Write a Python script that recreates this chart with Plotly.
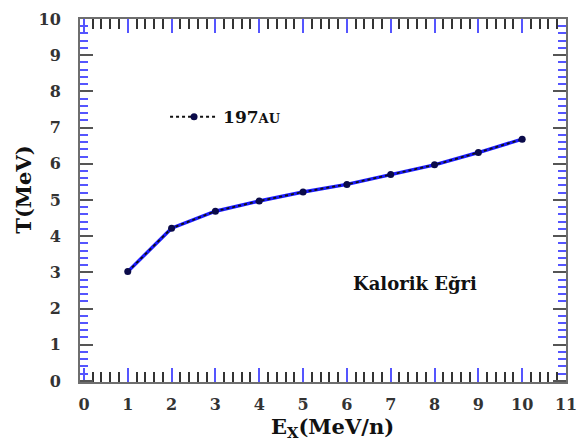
import plotly.graph_objects as go

ex = [1, 2, 3, 4, 5, 6, 7, 8, 9, 10]
temp = [3.02, 4.22, 4.69, 4.97, 5.22, 5.43, 5.70, 5.97, 6.31, 6.68]
x_ticks = list(range(0, 12))
y_ticks = list(range(0, 11))

serif = "DejaVu Serif, serif"

fig = go.Figure()
fig.add_trace(go.Scatter(x=ex, y=temp, mode="lines",
                         line=dict(color="#1a1aff", width=3.5),
                         showlegend=False, hoverinfo="skip"))
fig.add_trace(go.Scatter(x=ex, y=temp, mode="lines+markers",
                         name="<b><span style='font-size:17px'>197</span><span style='font-size:13px'>AU</span></b>",
                         line=dict(color="#111111", width=1.8, dash="dot"),
                         marker=dict(color="#0b0b4a", size=7, symbol="circle")))

fig.add_annotation(x=7.56, y=2.69, text="<b>Kalorik Eğri</b>", showarrow=False,
                   font=dict(family=serif, size=18, color="#111111"))
fig.add_annotation(xref="paper", yref="paper", x=-0.117, y=0.53, text="<b>T(MeV)</b>",
                   textangle=-90, showarrow=False, xanchor="center", yanchor="middle",
                   font=dict(family=serif, size=21, color="#111111"))
fig.add_annotation(xref="paper", yref="paper", x=0.52, y=-0.125, text="<b>E<sub>X</sub>(MeV/n)</b>",
                   showarrow=False, xanchor="center", yanchor="middle",
                   font=dict(family=serif, size=21, color="#111111"))

axis_common = dict(showgrid=False, zeroline=False, showline=True, linecolor="#6e6e6e",
                   linewidth=2, mirror="ticks", ticks="inside",
                   tickfont=dict(family=serif, size=16, color="#333333", weight="bold"))

fig.update_xaxes(range=[-0.09, 11], tickvals=x_ticks, ticktext=[str(v) for v in x_ticks],
                 ticklen=14, tickcolor="#5555ff", tickwidth=1.5, ticklabelstandoff=7,
                 minor=dict(dtick=0.2, ticklen=10, tickcolor="#333333", tickwidth=1.5, ticks="inside"),
                 **axis_common)
fig.update_yaxes(range=[-0.03, 10], tickvals=y_ticks, ticktext=[str(v) for v in y_ticks],
                 ticklen=13, tickcolor="#555555", tickwidth=1.5, ticklabelstandoff=14,
                 minor=dict(dtick=0.2, ticklen=8, tickcolor="#5555ff", tickwidth=1.5, ticks="inside"),
                 **axis_common)

fig.update_layout(width=587, height=443, margin=dict(l=80, r=10, t=14, b=61),
                  plot_bgcolor="white", paper_bgcolor="white",
                  legend=dict(x=0.175, y=0.73, xanchor="left", yanchor="middle",
                              bgcolor="rgba(0,0,0,0)",
                              font=dict(family=serif, size=15, color="#111111"),
                              itemwidth=48))

fig.write_html("out.html")
